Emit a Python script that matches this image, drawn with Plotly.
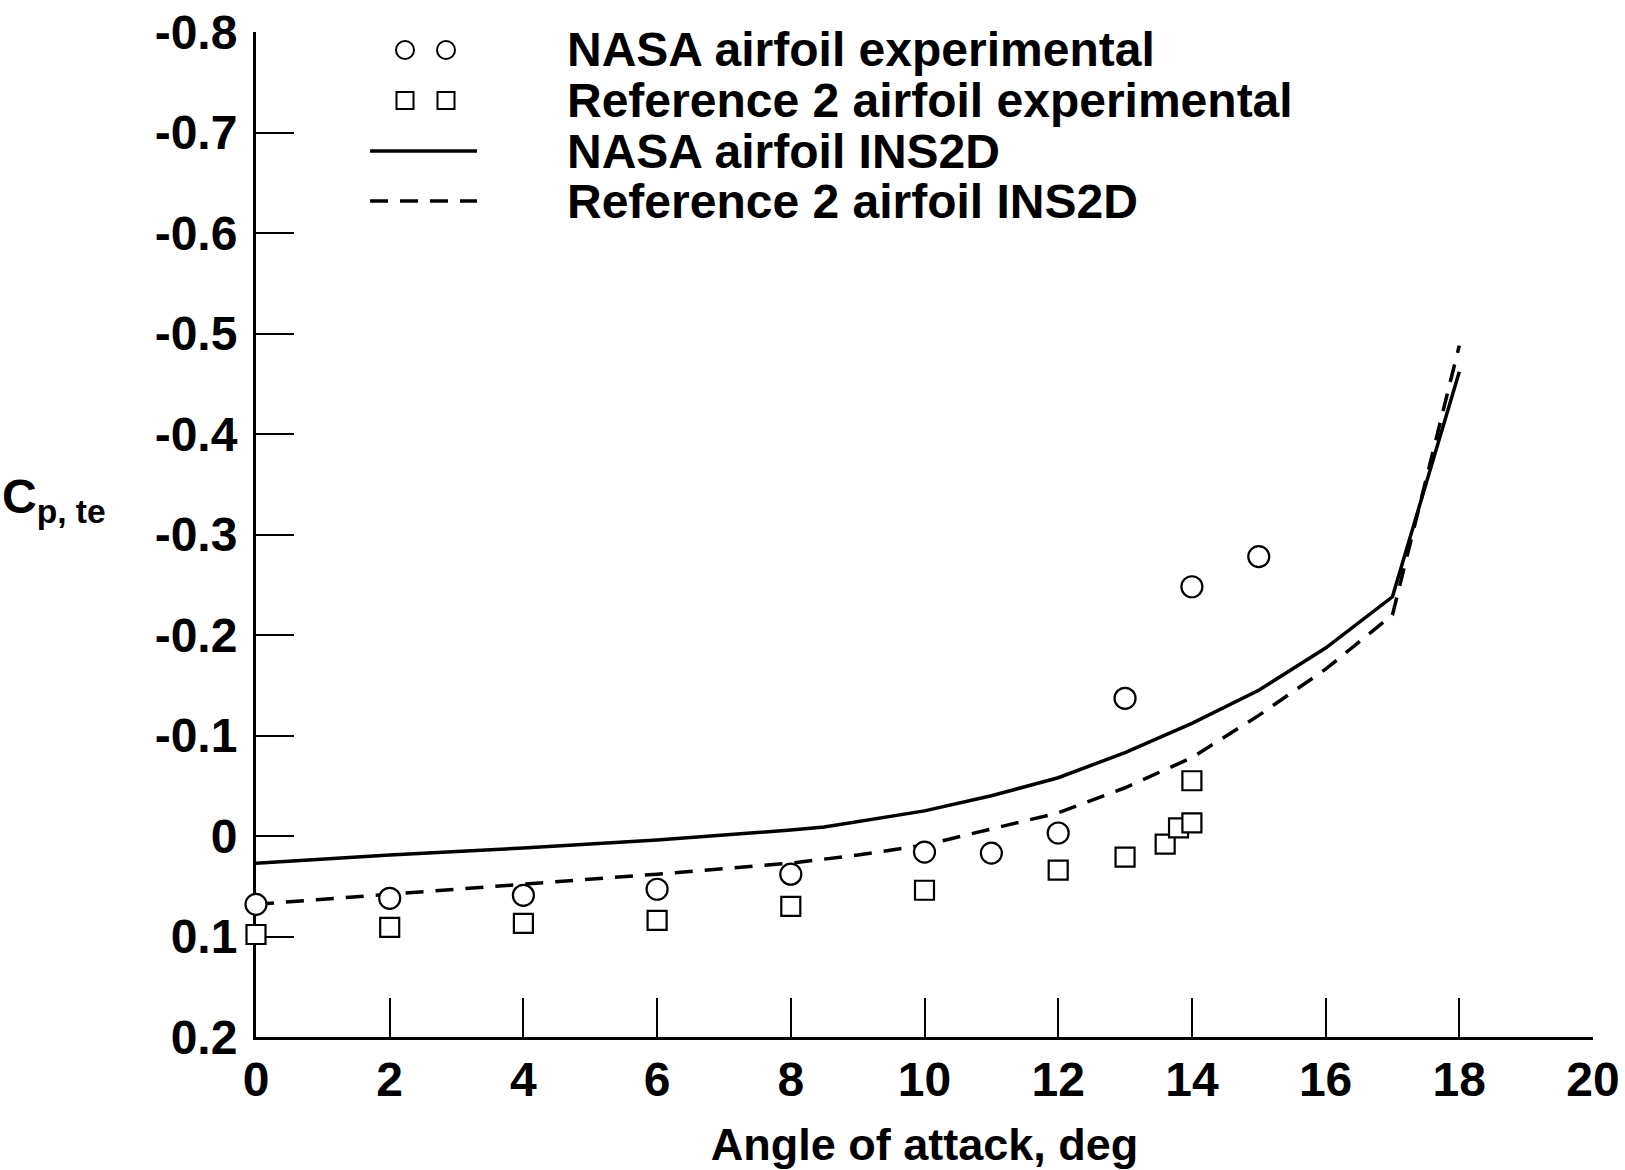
import plotly.graph_objects as go

# Trailing-edge pressure coefficient vs angle of attack
nasa_exp_alpha = [0, 2, 4, 6, 8, 10, 11, 12, 13, 14, 15]
nasa_exp_cp = [0.068, 0.062, 0.059, 0.053, 0.038, 0.016, 0.017, -0.003, -0.137, -0.248, -0.278]

ref2_exp_alpha = [0, 2, 4, 6, 8, 10, 12, 13, 13.6, 13.8, 14, 14]
ref2_exp_cp = [0.098, 0.091, 0.087, 0.084, 0.070, 0.054, 0.034, 0.021, 0.008, -0.008, -0.013, -0.055]

nasa_ins2d_alpha = [0, 2, 4, 6, 8, 8.5, 10, 11, 12, 13, 14, 15, 16, 17, 18]
nasa_ins2d_cp = [0.027, 0.019, 0.012, 0.004, -0.006, -0.009, -0.025, -0.040, -0.058, -0.083, -0.112, -0.145, -0.187, -0.238, -0.462]

ref2_ins2d_alpha = [0, 2, 4, 6, 8, 9, 10, 11, 12, 13, 14, 15, 16, 17, 18]
ref2_ins2d_cp = [0.068, 0.058, 0.048, 0.038, 0.027, 0.019, 0.009, -0.007, -0.023, -0.048, -0.078, -0.120, -0.166, -0.220, -0.488]

x_ticks = [0, 2, 4, 6, 8, 10, 12, 14, 16, 18, 20]
y_ticks = [-0.8, -0.7, -0.6, -0.5, -0.4, -0.3, -0.2, -0.1, 0.0, 0.1, 0.2]
y_tick_text = ["-0.8", "-0.7", "-0.6", "-0.5", "-0.4", "-0.3", "-0.2", "-0.1", "0", "0.1", "0.2"]

legend_names = [
    "NASA airfoil experimental",
    "Reference 2 airfoil experimental",
    "NASA airfoil INS2D",
    "Reference 2 airfoil INS2D",
]

W, H = 1625, 1170
L, R, T, B = 256, 32, 32, 133
FONT = "Liberation Sans, Arial, sans-serif"
DASH = "18px,12px"


def px_to_paper(px, py):
    return (px - L) / (W - L - R), (H - B - py) / (H - T - B)


fig = go.Figure()

fig.add_trace(go.Scatter(
    x=nasa_ins2d_alpha, y=nasa_ins2d_cp, mode="lines",
    line=dict(color="black", width=3.5), showlegend=False, cliponaxis=False))
fig.add_trace(go.Scatter(
    x=ref2_ins2d_alpha, y=ref2_ins2d_cp, mode="lines",
    line=dict(color="black", width=3.5, dash=DASH), showlegend=False, cliponaxis=False))
fig.add_trace(go.Scatter(
    x=nasa_exp_alpha, y=nasa_exp_cp, mode="markers",
    marker=dict(symbol="circle", size=21, color="white", line=dict(color="black", width=2.2)),
    showlegend=False, cliponaxis=False))
fig.add_trace(go.Scatter(
    x=ref2_exp_alpha, y=ref2_exp_cp, mode="markers",
    marker=dict(symbol="square", size=19, color="white", line=dict(color="black", width=2.2)),
    showlegend=False, cliponaxis=False))

# Key samples on an overlay axis pair spanning the plot area in fractions
key_rows = [50, 100.5, 151, 201]
cx = [px_to_paper(405, 0)[0], px_to_paper(446, 0)[0]]
fig.add_trace(go.Scatter(
    x=cx, y=[px_to_paper(0, key_rows[0])[1]] * 2, mode="markers", xaxis="x2", yaxis="y2",
    marker=dict(symbol="circle", size=18, color="white", line=dict(color="black", width=2)),
    showlegend=False, cliponaxis=False))
fig.add_trace(go.Scatter(
    x=cx, y=[px_to_paper(0, key_rows[1])[1]] * 2, mode="markers", xaxis="x2", yaxis="y2",
    marker=dict(symbol="square", size=17, color="white", line=dict(color="black", width=2)),
    showlegend=False, cliponaxis=False))
lx = [px_to_paper(370, 0)[0], px_to_paper(477, 0)[0]]
fig.add_trace(go.Scatter(
    x=lx, y=[px_to_paper(0, key_rows[2])[1]] * 2, mode="lines", xaxis="x2", yaxis="y2",
    line=dict(color="black", width=3.5), showlegend=False, cliponaxis=False))
fig.add_trace(go.Scatter(
    x=lx, y=[px_to_paper(0, key_rows[3])[1]] * 2, mode="lines", xaxis="x2", yaxis="y2",
    line=dict(color="black", width=3.5, dash=DASH), showlegend=False, cliponaxis=False))

annotations = []
for name, row in zip(legend_names, key_rows):
    tx, ty = px_to_paper(565, row)
    annotations.append(dict(
        x=tx, y=ty, xref="paper", yref="paper", text=name, showarrow=False,
        xanchor="left", yanchor="middle",
        font=dict(family=FONT, size=48, color="black", weight="bold")))

ax, ay = px_to_paper(0, 500)
annotations.append(dict(
    x=ax, y=ay, xref="paper", yref="paper", text="C<sub>p, te</sub>", showarrow=False,
    xanchor="left", yanchor="middle",
    font=dict(family=FONT, size=48, color="black", weight="bold")))

tick_font = dict(family=FONT, size=48, color="black", weight="bold")
title_font = dict(family=FONT, size=45, color="black", weight="bold")

fig.update_layout(
    width=W, height=H,
    margin=dict(l=L, r=R, t=T, b=B, autoexpand=False),
    paper_bgcolor="white", plot_bgcolor="white",
    showlegend=False,
    annotations=annotations,
    xaxis=dict(
        range=[0, 20], tickvals=x_ticks, ticktext=[str(v) for v in x_ticks],
        showgrid=False, zeroline=False, showline=True, linecolor="black", linewidth=3,
        ticks="inside", ticklen=39, tickwidth=2, tickcolor="black",
        tickfont=tick_font, ticklabelstandoff=-2, layer="below traces",
        title=dict(text="Angle of attack, deg", font=title_font, standoff=34),
        automargin=False),
    yaxis=dict(
        range=[0.2, -0.8], tickvals=y_ticks, ticktext=y_tick_text,
        showgrid=False, zeroline=False, showline=True, linecolor="black", linewidth=3,
        ticks="inside", ticklen=38, tickwidth=2, tickcolor="black",
        tickfont=tick_font, ticklabelstandoff=6, layer="below traces",
        automargin=False),
    xaxis2=dict(range=[0, 1], overlaying="x", visible=False, fixedrange=True),
    yaxis2=dict(range=[0, 1], overlaying="y", visible=False, fixedrange=True),
)

fig.write_html("out.html")
